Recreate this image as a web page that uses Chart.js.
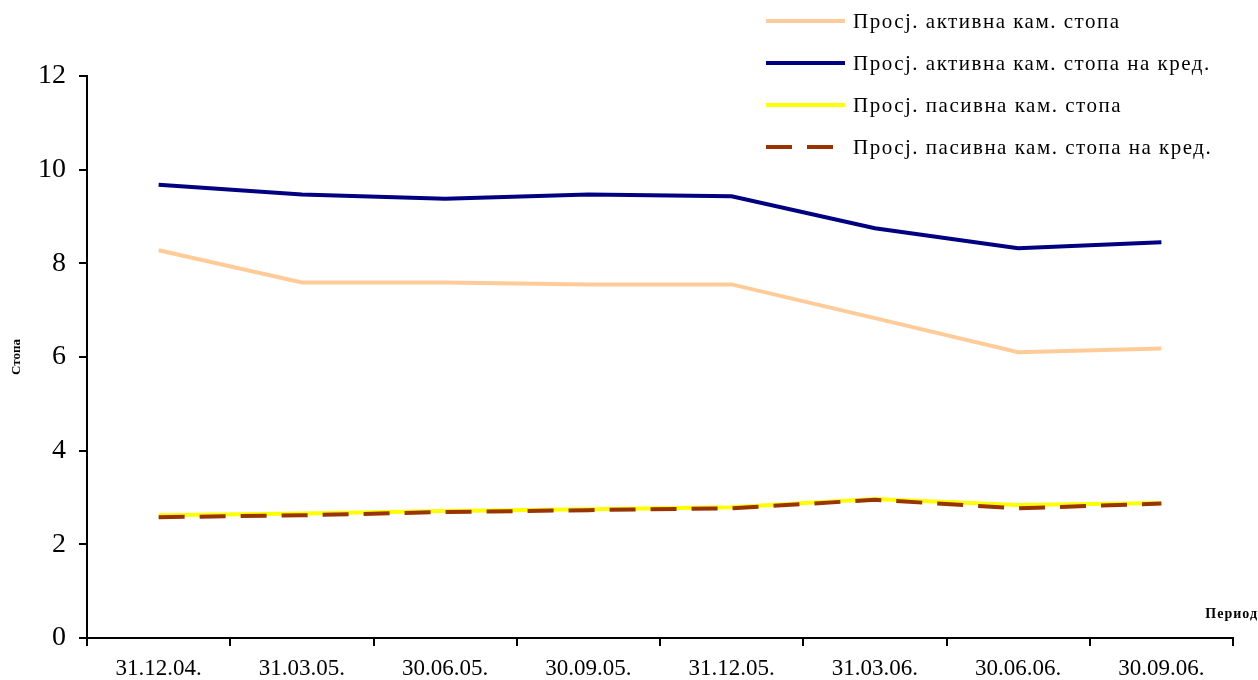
<!DOCTYPE html>
<html>
<head>
<meta charset="utf-8">
<script src="https://cdn.jsdelivr.net/npm/chart.js@4.4.1/dist/chart.umd.min.js"></script>
<style>
    html, body { margin: 0; padding: 0; background: #fff; }
    #wrap { width: 1258px; height: 680px; position: relative; }
</style>
</head>
<body>
<div id="wrap"><canvas id="rates"></canvas></div>
<script>
const periods = ['31.12.04.', '31.03.05.', '30.06.05.', '30.09.05.', '31.12.05.', '31.03.06.', '30.06.06.', '30.09.06.'];

const activeRate = [8.28, 7.59, 7.59, 7.55, 7.55, 6.83, 6.10, 6.18];
const activeCreditRate = [9.68, 9.47, 9.38, 9.47, 9.43, 8.75, 8.32, 8.45];
const passiveRate = [2.62, 2.66, 2.71, 2.75, 2.79, 2.97, 2.84, 2.88];
const passiveCreditRate = [2.58, 2.62, 2.69, 2.73, 2.77, 2.95, 2.77, 2.87];

const seriesNames = [
    'Просј. активна кам. стопа',
    'Просј. активна кам. стопа на кред.',
    'Просј. пасивна кам. стопа',
    'Просј. пасивна кам. стопа на кред.'
];

const yTicks = [0, 2, 4, 6, 8, 10, 12];

const serif = "'Liberation Serif', 'DejaVu Serif', serif";

// legend stacked in the top right corner, one row per series
const sideLegend = {
    id: 'sideLegend',
    afterDraw(chart) {
        const ctx = chart.ctx;
        ctx.save();
        chart.data.datasets.forEach((ds, i) => {
            const y = 21 + i * 42;
            ctx.beginPath();
            ctx.strokeStyle = ds.borderColor;
            ctx.lineWidth = 4;
            ctx.setLineDash(ds.borderDash || []);
            ctx.moveTo(766, y);
            ctx.lineTo(845, y);
            ctx.stroke();
            ctx.setLineDash([]);
            ctx.fillStyle = '#000';
            ctx.font = `21px ${serif}`;
            ctx.letterSpacing = '1.5px';
            ctx.textBaseline = 'middle';
            ctx.fillText(ds.label, 853, y + 1);
        });
        // x axis caption sits above the right end of the axis
        ctx.font = `bold 14px ${serif}`;
        ctx.letterSpacing = '1px';
        ctx.textAlign = 'right';
        ctx.textBaseline = 'middle';
        ctx.fillText('Период', 1258, 614);
        ctx.restore();
    }
};

const ctx = document.getElementById('rates').getContext('2d');
new Chart(ctx, {
    type: 'line',
    data: {
        labels: periods,
        datasets: [
            {
                label: seriesNames[0],
                data: activeRate,
                borderColor: '#FFCC99',
                borderWidth: 4,
                order: 1
            },
            {
                label: seriesNames[1],
                data: activeCreditRate,
                borderColor: '#000080',
                borderWidth: 4,
                order: 1
            },
            {
                label: seriesNames[2],
                data: passiveRate,
                borderColor: '#FFFF00',
                borderWidth: 4,
                order: 2
            },
            {
                label: seriesNames[3],
                data: passiveCreditRate,
                borderColor: '#993300',
                borderWidth: 4,
                borderDash: [26, 15],
                order: 0
            }
        ]
    },
    options: {
        responsive: true,
        maintainAspectRatio: false,
        animation: false,
        elements: {
            point: { radius: 0, hoverRadius: 0 },
            line: { tension: 0, fill: false, borderCapStyle: 'butt' }
        },
        layout: { padding: { top: 76, right: 25, left: 0, bottom: 0 } },
        plugins: {
            legend: { display: false },
            tooltip: { enabled: false }
        },
        scales: {
            x: {
                offset: true,
                grid: {
                    offset: true,
                    drawOnChartArea: false,
                    drawTicks: true,
                    tickLength: 8,
                    color: '#000',
                    lineWidth: 2
                },
                border: { color: '#000', width: 2 },
                ticks: {
                    color: '#000',
                    font: { family: serif, size: 23 },
                    maxRotation: 0,
                    autoSkip: false,
                    padding: 9
                },
                afterFit: (scale) => { scale.height = 42; }
            },
            y: {
                min: yTicks[0],
                max: yTicks[yTicks.length - 1],
                grid: {
                    drawOnChartArea: false,
                    drawTicks: true,
                    tickLength: 8,
                    color: '#000',
                    lineWidth: 2
                },
                border: { color: '#000', width: 2 },
                afterBuildTicks: (scale) => {
                    scale.ticks = yTicks.map(v => ({ value: v }));
                },
                ticks: {
                    color: '#000',
                    font: { family: serif, size: 28 },
                    padding: 13
                },
                title: {
                    display: true,
                    text: 'Стопа',
                    color: '#000',
                    font: { family: serif, size: 13, weight: 'bold' },
                    padding: { top: 9, bottom: 0 }
                },
                afterFit: (scale) => { scale.width = 87; }
            }
        }
    },
    plugins: [sideLegend]
});
</script>
</body>
</html>
